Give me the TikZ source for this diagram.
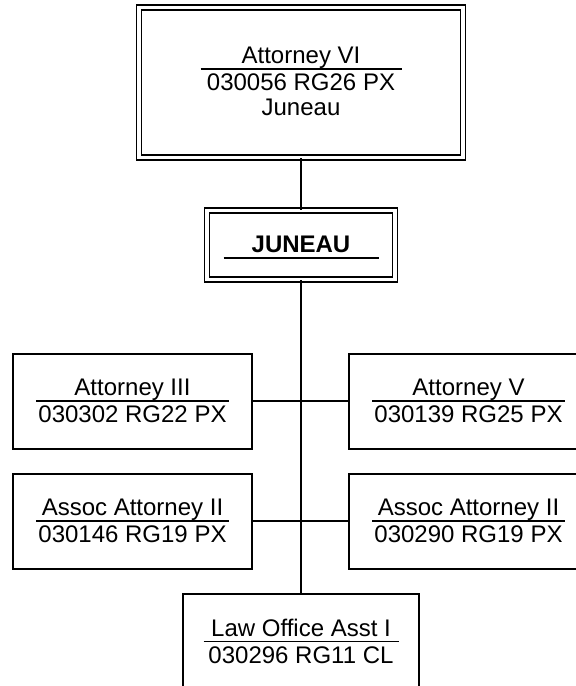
\documentclass[tikz,border=0pt]{standalone}
\usepackage{fontspec}
\setmainfont{Liberation Sans}
\usepackage{tikz}
\usetikzlibrary{positioning}
\tikzstyle{posbox} = [rectangle, draw, line width=1pt, minimum width=119.5pt, minimum height=47.5pt, inner sep=0pt, align=center]
\tikzstyle{unitbox} = [rectangle, draw, line width=0.9pt, double, double distance=1.6pt, inner sep=0pt, align=center]
\tikzstyle{link} = [line width=0.9pt]
\newcommand{\pcn}[3]{#1\\[-11.3pt]\rule{#3}{0.75pt}\\[-4pt]#2}

\begin{document}
\begin{tikzpicture}[x=0.5pt, y=-0.5pt, font=\fontsize{12}{14.4}\selectfont]
\clip (0,0) rectangle (576,686);
% director and section
\node (att6) [unitbox, minimum width=162pt, minimum height=75pt] at (301,82.5) {Attorney VI\\[-11.3pt]\rule{100.5pt}{0.75pt}\\[-4pt]030056 RG26 PX\\[-1.9pt]Juneau\rule[-1.3pt]{0pt}{0pt}};
\node (juneau) [unitbox, minimum width=94pt, minimum height=34.5pt] at (301,245) {\rule{0pt}{10.6pt}\textbf{JUNEAU}\\[-11.3pt]\rule{77.5pt}{0.75pt}};

% staff
\node (att3) [posbox] at (132.5,401) {\pcn{Attorney III}{030302 RG22 PX}{96.5pt}};
\node (assoc1) [posbox] at (132.5,521) {\pcn{Assoc Attorney II}{030146 RG19 PX}{96.5pt}};
\node (att5) [posbox] at (468.5,401) {\pcn{Attorney V}{030139 RG25 PX}{96.5pt}};
\node (assoc2) [posbox] at (468.5,521) {\pcn{Assoc Attorney II}{030290 RG19 PX}{96.5pt}};
\node (asst) [posbox, minimum width=118pt] at (301,641) {\pcn{Law Office Asst I}{030296 RG11 CL}{97.5pt}};

\draw[link] (att6) -- (juneau);
\draw[link] (juneau) -- (asst);
\draw[link] (att3.east) -- (att3.east -| juneau);
\draw[link] (assoc1.east) -- (assoc1.east -| juneau);
\draw[link] (att5.west) -- (att5.west -| juneau);
\draw[link] (assoc2.west) -- (assoc2.west -| juneau);
\end{tikzpicture}
\end{document}
